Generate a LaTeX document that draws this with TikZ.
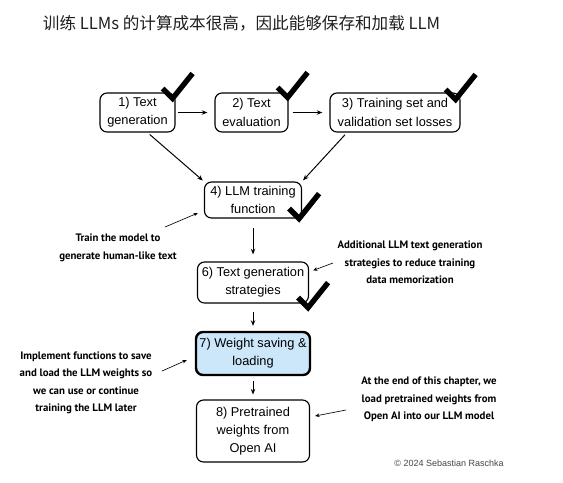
\documentclass[tikz,border=0pt]{standalone}
\usepackage{fontspec}
\setmainfont{Liberation Sans}
\newfontfamily\notefont{PT Sans}
\newfontfamily\cjk{Noto Sans CJK SC}
\usetikzlibrary{positioning,arrows.meta,calc}
\definecolor{ink}{HTML}{000000}
\definecolor{titleink}{HTML}{1f1f1f}
\definecolor{savebg}{HTML}{CCE6FA}
\definecolor{muted}{HTML}{444444}

\begin{document}
\begin{tikzpicture}[x=0.025cm,y=-0.025cm,
  font=\fontsize{9.1pt}{13pt}\selectfont,
  box/.style={draw=ink,line width=0.8pt,rounded corners=5pt,align=center,inner sep=0pt,fill=white},
  savebox/.style={box,fill=savebg,line width=1.7pt},
  note/.style={font=\notefont\bfseries\fontsize{7.7pt}{12.4pt}\selectfont,align=center},
  arr/.style={-{Stealth[length=1.4mm,width=1.1mm]},line width=0.7pt,draw=ink,shorten <=4pt,shorten >=4pt},
  narr/.style={-{Stealth[length=1.1mm,width=0.9mm]},line width=0.45pt,draw=ink},
  checkmark/.pic={\draw[line width=3.8pt,line join=miter] (-10,-10) -- (0,0) -- (20,-25);}]
  \useasboundingbox (0,0) rectangle (563,482);
  \node[anchor=west,font=\cjk\fontsize{11.8pt}{14pt}\selectfont,text=titleink] (title) at (38,23) {训练 LLMs 的计算成本很高，因此能够保存和加载 LLM};
  \node[box,minimum width=1.875cm,minimum height=0.975cm] (gen) at (137.5,112.5) {1) Text\\generation};
  \node[box,minimum width=1.825cm,minimum height=0.975cm] (eval) at (251.5,112.5) {2) Text\\evaluation};
  \node[box,minimum width=3.25cm,minimum height=0.975cm] (loss) at (395,112.5) {3) Training set and\\validation set losses};
  \node[box,minimum width=2.425cm,minimum height=0.9cm] (train) at (253,200) {4) LLM training\\function};
  \node[box,minimum width=2.775cm,minimum height=1.025cm] (strat) at (253,282.5) {6) Text generation\\strategies};
  \node[savebox,minimum width=2.85cm,minimum height=1.075cm] (save) at (253,353.5) {7) Weight saving \&\\loading};
  \node[box,minimum width=2.825cm,minimum height=1.55cm] (pre) at (253,431) {8) Pretrained\\weights from\\Open AI};

  \node[note] (trnote) at (118,248) {Train the model to\\generate human-like text};
  \node[note] (stnote) at (410,262.5) {Additional LLM text generation\\strategies to reduce training\\data memorization};
  \node[note] (svnote) at (86,383) {Implement functions to save\\and load the LLM weights so\\we can use or continue\\training the LLM later};
  \node[note] (prnote) at (429,399.5) {At the end of this chapter, we\\load pretrained weights from\\Open AI into our LLM model};
  \node[font=\fontsize{6.4pt}{8pt}\selectfont,text=muted] (copy) at (449,463) {© 2024 Sebastian Raschka};

  \draw[arr,shorten <=1.4pt,shorten >=5pt] (gen) -- (eval);
  \draw[arr,shorten <=2.8pt,shorten >=5pt] (eval) -- (loss);
  \draw[arr,shorten <=2pt,shorten >=1pt] ([xshift=0.25cm]gen.south) -- (train.north west);
  \draw[arr,shorten <=2pt,shorten >=1pt] ([xshift=-1.2cm]loss.south) -- (train.north east);
  \draw[arr,shorten <=6.4pt,shorten >=5pt] (train) -- (strat);
  \draw[arr,shorten <=6pt,shorten >=3.5pt] (strat) -- (save);
  \draw[arr,shorten <=3.5pt,shorten >=3.5pt] (save) -- (pre);

  \coordinate (trtail) at (165,227);
  \coordinate (sttail) at (333,263);
  \coordinate (svtail) at (162,371);
  \coordinate (prtail) at (346,410);
  \draw[narr] (trtail) -- ($(train.west)+(-6,13)$);
  \draw[narr] (sttail) -- ($(strat.north east)+(4,9)$);
  \draw[narr] (svtail) -- ($(save.west)+(-8,6.5)$);
  \draw[narr] (prtail) -- ($(pre.east)+(5,-15)$);

  \pic at ($(gen.north east)+(-3,6)$) {checkmark};
  \pic at ($(eval.north east)+(-1,5)$) {checkmark};
  \pic at ($(loss.north east)+(-5,7)$) {checkmark};
  \pic at ($(train.south east)+(-3,0)$) {checkmark};
  \pic at ($(strat.south east)+(-1,4)$) {checkmark};
\end{tikzpicture}
\end{document}
